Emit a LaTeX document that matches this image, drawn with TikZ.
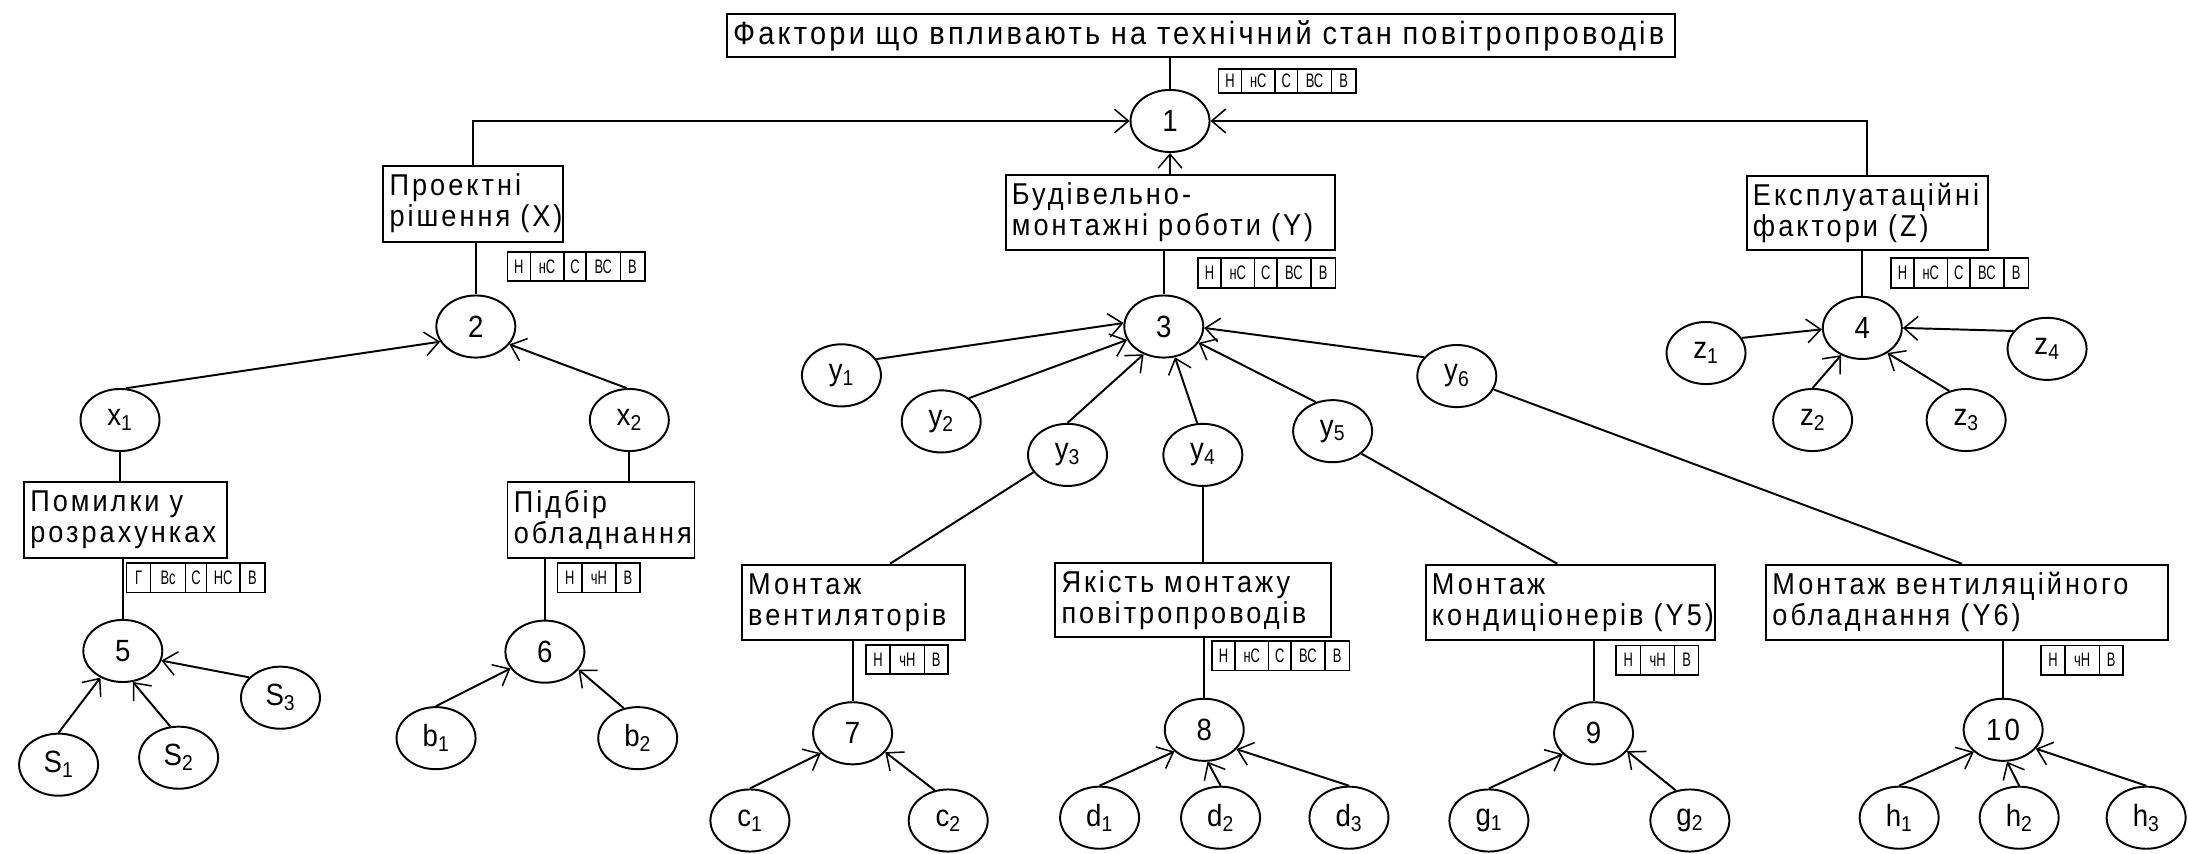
\documentclass[tikz,border=0pt]{standalone}
\usepackage{fontspec}
\setmainfont[FakeStretch=0.9,LetterSpace=10]{Liberation Sans}
\newfontfamily\cellfont[FakeStretch=0.66]{Liberation Sans}
\usetikzlibrary{shapes.geometric,arrows.meta,calc}
\tikzset{
  box/.style={draw, line width=1.4pt, rectangle, anchor=north west, align=left,
    inner xsep=4.5pt, inner ysep=0pt, font=\fontsize{21.6}{22.2}\selectfont},
  el/.style={draw, ellipse, line width=1.4pt, minimum width=56.6pt, minimum height=44.5pt,
    inner sep=0pt, font=\fontsize{22}{22}\selectfont},
  cell/.style={draw, line width=1.1pt, inner sep=0pt, font=\cellfont\fontsize{14}{14}\selectfont},
  arr/.style={line width=1.4pt, -{Straight Barb[length=10pt,width=17pt,line width=1.1pt]}},
  con/.style={line width=1.4pt},
}
\newcommand\tbl[5]{%
  \edef\tbllist{#5}%
  \foreach \w/\t [count=\i, remember=\nx as \cx (initially #2)] in \tbllist {%
    \pgfmathsetmacro\nx{\cx+\w}%
    \node[cell, minimum width=\w pt, minimum height=#4pt, anchor=north west] (#1-\i) at (\cx,#3) {\t};
  }}
\newcommand\fivecells{16.5/Н, 24/нС, 16/С, 24.5/ВС, 17.5/В}
\newcommand\threecells{17.4/Н, 24.5/чН, 17/В}
\begin{document}
\begin{tikzpicture}[x=1pt,y=-1pt]
\fill[white] (0,0) rectangle (1568,612);
\useasboundingbox (0,0) rectangle (1568,612);

% boxes
\node[box, text width=671pt, minimum height=30.8pt, font=\fontsize{23.1}{23.5}\selectfont, inner xsep=4pt] (ti) at (520.6,9.3)
  {\mbox{Фактори що впливають на технічний стан повітропроводів}};
\node[box, text width=120pt, minimum height=54.5pt] (pr) at (274,118) {\mbox{Проектні}\\\mbox{рішення (X)}};
\node[box, text width=227pt, minimum height=54pt] (bu) at (720,124.7) {\mbox{Будівельно-}\\\mbox{монтажні роботи (Y)}};
\node[box, text width=164pt, minimum height=53.3pt] (ex) at (1251,125.4) {\mbox{Експлуатаційні}\\\mbox{фактори (Z)}};
\node[box, text width=136.5pt, minimum height=54pt] (po) at (16.5,345) {\mbox{Помилки у}\\\mbox{розрахунках}};
\node[box, text width=125pt, minimum height=54pt] (pi) at (363,345) {\mbox{Підбір}\\\mbox{обладнання}};
\node[box, text width=151pt, minimum height=54pt] (mv) at (531,404) {\mbox{Монтаж}\\\mbox{вентиляторів}};
\node[box, text width=188.5pt, minimum height=53pt] (ya) at (755.5,403) {\mbox{Якість монтажу}\\\mbox{повітропроводів}};
\node[box, text width=198pt, minimum height=54pt] (ko) at (1021,404) {\mbox{Монтаж}\\\mbox{кондиціонерів (Y5)}};
\node[box, text width=279pt, minimum height=54pt] (ve) at (1265,404) {\mbox{Монтаж вентиляційного}\\\mbox{обладнання (Y6)}};

% tables
\tbl{t0}{872.7}{49}{17}{\fivecells}
\tbl{t1}{363}{180}{21}{\fivecells}
\tbl{t2}{858}{184.5}{21.5}{\fivecells}
\tbl{t3}{1354.6}{184.4}{21.5}{\fivecells}
\tbl{t4}{90}{403}{21}{17.4/Г, 25/Вс, 15/С, 24/НС, 17.8/В}
\tbl{t5}{399}{403}{21}{\threecells}
\tbl{t6}{620}{461.5}{21}{\threecells}
\tbl{t7}{868}{459}{21}{\fivecells}
\tbl{t8}{1157.7}{462}{21}{\threecells}
\tbl{t9}{1462}{462}{21}{\threecells}

% ellipses
\node[el] (n1) at (838.5,86.7) {1};
\node[el] (n2) at (341,234) {2};
\node[el] (n3) at (834,234) {3};
\node[el] (n4) at (1334.6,235) {4};
\node[el] (n5) at (88,466.5) {5};
\node[el] (n6) at (390.5,467) {6};
\node[el] (n7) at (611,525.5) {7};
\node[el] (n8) at (863,523) {8};
\node[el] (n9) at (1142,525.5) {9};
\node[el] (n10) at (1435.5,523) {10};
\node[el] (x1) at (86,301) {x\textsubscript{1}};
\node[el] (x2) at (451,301) {x\textsubscript{2}};
\node[el] (y1) at (603,269) {y\textsubscript{1}};
\node[el] (y2) at (674.5,302) {y\textsubscript{2}};
\node[el] (y3) at (765,326) {y\textsubscript{3}};
\node[el] (y4) at (862,326) {y\textsubscript{4}};
\node[el] (y5) at (955,309) {y\textsubscript{5}};
\node[el] (y6) at (1044,269.5) {y\textsubscript{6}};
\node[el] (z1) at (1222.6,253) {z\textsubscript{1}};
\node[el] (z2) at (1299,301) {z\textsubscript{2}};
\node[el] (z3) at (1409,301) {z\textsubscript{3}};
\node[el] (z4) at (1467,250) {z\textsubscript{4}};
\node[el] (S1) at (42,548) {S\textsubscript{1}};
\node[el] (S2) at (128,543) {S\textsubscript{2}};
\node[el] (S3) at (201,500) {S\textsubscript{3}};
\node[el] (b1) at (312.5,529) {b\textsubscript{1}};
\node[el] (b2) at (457,529) {b\textsubscript{2}};
\node[el] (c1) at (537.4,588) {c\textsubscript{1}};
\node[el] (c2) at (679.5,588) {c\textsubscript{2}};
\node[el] (d1) at (788,586) {d\textsubscript{1}};
\node[el] (d2) at (874.7,586) {d\textsubscript{2}};
\node[el] (d3) at (966.7,586) {d\textsubscript{3}};
\node[el] (g1) at (1067,588) {g\textsubscript{1}};
\node[el] (g2) at (1211,588) {g\textsubscript{2}};
\node[el] (h1) at (1361,586) {h\textsubscript{1}};
\node[el] (h2) at (1447,586) {h\textsubscript{2}};
\node[el] (h3) at (1538,586) {h\textsubscript{3}};

% connectors
\draw[con] (n1.north) -- (n1.north |- ti.south);
\draw[arr] (pr.north) |- (n1.west);
\draw[arr] (ex.north) |- (n1.east);
\draw[arr] (n1.south |- bu.north) -- (n1.south);
\draw[con] (n2.north) -- (n2.north |- pr.south);
\draw[con] (n3.north) -- (n3.north |- bu.south);
\draw[con] (n4.north) -- (n4.north |- ex.south);

\draw[arr] (x1.80) -- (n2.203);
\draw[arr] (x2.95) -- (n2.332);
\draw[con] (x1.south) -- (x1.south |- po.north);
\draw[con] (x2.south) -- (x2.south |- pi.north);
\draw[con] (n5.north) -- (n5.north |- po.south);
\draw[con] (n6.north) -- (n6.north |- pi.south);
\draw[arr] (S1.north) -- (n5.230);
\draw[arr] (S2.105) -- (n5.288);
\draw[arr] (S3.147) -- (n5.346);
\draw[arr] (b1.north) -- (n6.206);
\draw[arr] (b2.115) -- (n6.332);

\draw[arr] (y1.25) -- (n3.175);
\draw[arr] (y2.40) -- (n3.200);
\draw[arr] (y3.north) -- (n3.234);
\draw[arr] (y4.100) -- (n3.290);
\draw[arr] (y5.120) -- (n3.335);
\draw[arr] (y6.150) -- (n3.358);
\coordinate (mvT) at ($(mv.north west)+(106.8,0)$);
\coordinate (koT) at ($(ko.north west)+(95,0)$);
\coordinate (veT) at ($(ve.north west)+(141,0)$);
\draw[con] (y3.207) -- (mvT);
\draw[con] (y4.south) -- (y4.south |- ya.north);
\draw[con] (y5.322) -- (koT);
\draw[con] (y6.340) -- (veT);
\draw[con] (n7.north) -- (n7.north |- mv.south);
\draw[con] (n8.north) -- (n8.north |- ya.south);
\draw[con] (n9.north) -- (n9.north |- ko.south);
\draw[con] (n10.north) -- (n10.north |- ve.south);
\draw[arr] (c1.north) -- (n7.212);
\draw[arr] (c2.114) -- (n7.330);
\draw[arr] (d1.north) -- (n8.216);
\draw[arr] (d2.north) -- (n8.276);
\draw[arr] (d3.north) -- (n8.329);
\draw[arr] (g1.north) -- (n9.214);
\draw[arr] (g2.115) -- (n9.332);
\draw[arr] (h1.north) -- (n10.217);
\draw[arr] (h2.north) -- (n10.277);
\draw[arr] (h3.north) -- (n10.330);

\draw[arr] (z1.23) -- (n4.182);
\draw[arr] (z4.152) -- (n4.east);
\draw[arr] (z2.north) -- (n4.232);
\draw[arr] (z3.120) -- (n4.315);
\end{tikzpicture}
\end{document}
